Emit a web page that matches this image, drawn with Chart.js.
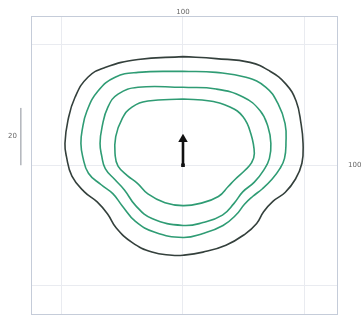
<!DOCTYPE html>
<html>
<head>
<meta charset="utf-8">
<script src="https://cdn.jsdelivr.net/npm/chart.js@4"></script>
<style>
  html, body { margin: 0; padding: 0; background: #fff; }
  #wrap { width: 361px; height: 320px; }
</style>
</head>
<body>
<div id="wrap"><canvas id="chart"></canvas></div>
<script>
// contour lines, [x, y] in field units, clockwise from the top
const outerLine = [
  [0, 37.9], [11.4, 37.2], [23.1, 35.9], [30.0, 32.8], [35.5, 28.3], [39.0, 22.4],
  [40.7, 14.5], [41.4, 7.6], [41.0, 0.7], [38.8, -4.8], [35.2, -9.5], [31.0, -12.6],
  [27.8, -16.2], [25.4, -20.3], [21.4, -24.0], [14.8, -27.9], [6.9, -30.3], [0, -31.4],
  [-3.8, -31.4], [-10.7, -30.3], [-17.6, -26.9], [-23.0, -21.9], [-26.0, -17.0],
  [-29.6, -12.8], [-34.0, -9.3], [-38.3, -3.8], [-40.2, 3.1], [-40.7, 7.6],
  [-39.7, 15.5], [-37.2, 23.8], [-32.8, 30.7], [-26.9, 34.1], [-15.5, 36.9], [0, 37.9],
];
const ring1 = [
  [0, 32.8], [11.4, 32.4], [21.7, 30.7], [28.6, 27.2], [32.8, 21.4], [35.2, 14.5],
  [35.5, 7.6], [35.0, 2.4], [33.4, -1.2], [30.6, -5.0], [27.4, -8.2], [24.0, -10.9],
  [21.2, -13.6], [18.4, -17.2], [13.8, -21.0], [6.9, -23.8], [0, -25.2],
  [-9.7, -23.4], [-16.4, -19.6], [-21.0, -14.1], [-24.2, -9.9], [-28.2, -6.8],
  [-32.6, -2.8], [-34.6, 3.1], [-35.2, 7.6], [-34.8, 12.1], [-33.1, 19.0],
  [-29.3, 25.9], [-23.4, 30.7], [-15.5, 32.4], [0, 32.8],
];
const ring2 = [
  [0, 27.2], [11.4, 26.6], [20.7, 23.8], [26.6, 19.0], [29.3, 13.4], [30.3, 7.6],
  [29.8, 2.4], [27.9, -1.6], [24.6, -5.9], [20.6, -9.3], [17.6, -13.3], [13.6, -17.4],
  [6.9, -20.0], [0, -21.0], [-10.7, -18.6], [-16.4, -14.0], [-20.2, -8.6],
  [-23.6, -4.9], [-26.8, -1.2], [-28.0, 3.1], [-28.6, 7.6], [-27.9, 13.4], [-25.9, 20.3],
  [-22.4, 24.8], [-15.5, 27.2], [0, 27.2],
];
const ring3 = [
  [0, 23.1], [9.3, 22.4], [16.2, 20.3], [20.7, 16.9], [23.4, 11.0], [24.6, 4.1],
  [23.6, 0.8], [21.2, -1.9], [18.1, -4.8], [15.6, -7.4], [12.2, -10.9], [5.9, -13.3],
  [0, -14.1], [-6.2, -13.1], [-12.1, -10.0], [-15.7, -6.3], [-19.2, -3.6], [-22.4, -0.3],
  [-23.4, 3.6], [-23.2, 10.0], [-21.0, 16.2], [-17.6, 20.3], [-12.1, 22.4], [0, 23.1],
];

// fixation arrow and the 20-unit scale bar
const arrowX = [0, 0];
const arrowY = [0, 9.1];
const scaleBarX = [-55.9, -55.9];
const scaleBarY = [0, 20];
const scaleBarLabel = "20";

const gridValues = [-42, 0, 42];
const edgeLabel = "100";

const X_MIN = -52.41, X_MAX = 53.10;
const Y_MIN = -52.07, Y_MAX = 52.07;

const GRID = "#e9ebf0";
const BOX = "#c5ccd9";
const TEXT = "#666";
const FONT = { family: "DejaVu Sans", size: 7 };

function toPoints(pairs) {
  return pairs.map(([x, y]) => ({ x, y }));
}

function zip(xs, ys) {
  return xs.map((x, i) => ({ x, y: ys[i] }));
}

function contour(pairs, color) {
  return {
    data: toPoints(pairs),
    borderColor: color,
    borderWidth: 1.6,
    pointRadius: 0,
    showLine: true,
    tension: 0.45,
    fill: false,
  };
}

function fixedTicks(values) {
  return (axis) => {
    axis.ticks = values.map((value) => ({ value }));
  };
}

// pin the axis to a fixed size and drop the label overhang padding
function fixedSize(size) {
  return (axis) => {
    if (axis.isHorizontal()) axis.height = size;
    else axis.width = size;
    axis.paddingLeft = axis.paddingRight = axis.paddingTop = axis.paddingBottom = 0;
  };
}

new Chart(document.getElementById("chart"), {
  type: "scatter",
  data: {
    datasets: [
      contour(outerLine, "#34403c"),
      contour(ring1, "#2f9c74"),
      contour(ring2, "#2f9c74"),
      contour(ring3, "#2f9c74"),
      {
        data: zip(arrowX, arrowY),
        borderColor: "#111",
        backgroundColor: "#111",
        borderWidth: 2.6,
        showLine: true,
        pointStyle: ["rect", "triangle"],
        pointRadius: [2.6, 5.5],
        pointBorderWidth: 0,
      },
      {
        data: zip(scaleBarX, scaleBarY),
        borderColor: "#8a8f99",
        backgroundColor: "#8a8f99",
        borderWidth: 1,
        showLine: true,
        pointRadius: 1.3,
        pointBorderWidth: 0,
        clip: false,
      },
    ],
  },
  options: {
    responsive: true,
    maintainAspectRatio: false,
    animation: false,
    layout: { padding: 0 },
    plugins: {
      legend: { display: false },
      tooltip: { enabled: false },
    },
    scales: {
      x: {
        type: "linear",
        position: "bottom",
        min: X_MIN,
        max: X_MAX,
        afterBuildTicks: fixedTicks(gridValues),
        afterFit: fixedSize(2),
        grid: { color: GRID, drawTicks: false },
        border: { color: BOX, width: 1 },
        ticks: { display: false },
      },
      xTop: {
        type: "linear",
        position: "top",
        min: X_MIN,
        max: X_MAX,
        afterBuildTicks: fixedTicks([0]),
        afterFit: fixedSize(16),
        grid: { display: false, drawTicks: false },
        border: { color: BOX, width: 1 },
        ticks: {
          padding: 0,
          color: TEXT,
          font: FONT,
          maxRotation: 0,
          callback: () => edgeLabel,
        },
      },
      y: {
        type: "linear",
        position: "left",
        min: Y_MIN,
        max: Y_MAX,
        afterBuildTicks: fixedTicks([...gridValues, 10]),
        afterFit: fixedSize(31),
        grid: {
          drawTicks: false,
          color: (ctx) => (ctx.tick && ctx.tick.value === 10 ? "rgba(0,0,0,0)" : GRID),
        },
        border: { color: BOX, width: 1 },
        ticks: {
          padding: 14,
          color: TEXT,
          font: FONT,
          callback: (value) => (value === 10 ? scaleBarLabel : ""),
        },
      },
      yRight: {
        type: "linear",
        position: "right",
        min: Y_MIN,
        max: Y_MAX,
        afterBuildTicks: fixedTicks([0]),
        afterFit: fixedSize(24),
        grid: { display: false, drawTicks: false },
        border: { color: BOX, width: 1 },
        ticks: {
          padding: 11,
          color: TEXT,
          font: FONT,
          callback: () => edgeLabel,
        },
      },
    },
  },
});
</script>
</body>
</html>
